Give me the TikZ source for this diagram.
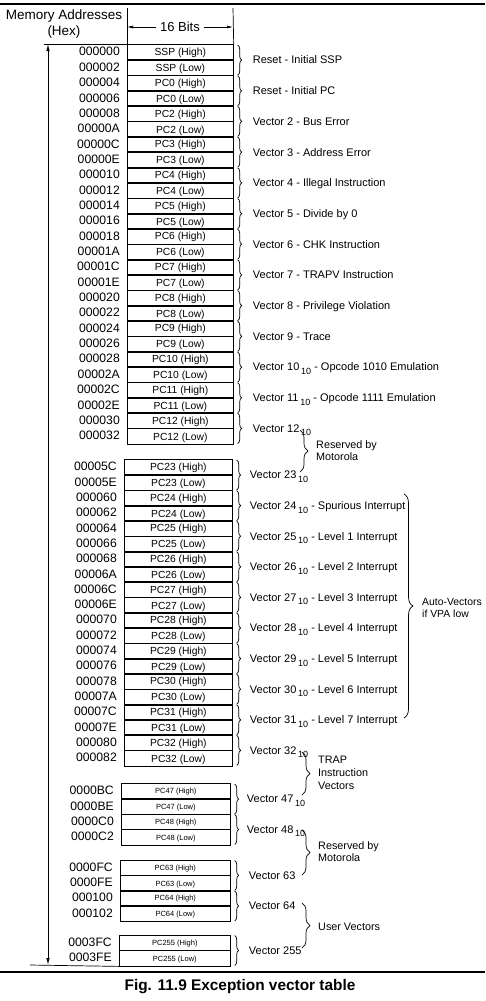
\documentclass[tikz,border=0pt]{standalone}
\usepackage{fontspec}
\setmainfont{Liberation Sans}
\usetikzlibrary{decorations.pathreplacing,calc,arrows.meta}
\newcommand\vsub[1]{\,\raisebox{-3.5pt}{\fontsize{9}{9}\selectfont #1}}
\begin{document}
\begin{tikzpicture}[x=1pt,y=-1pt,
  cell/.style={draw, line width=0.7pt, inner sep=0pt, anchor=north west, text height=7.2pt, text depth=0pt, font=\fontsize{10.3}{12}\selectfont},
  cellsmall/.style={cell, text height=5.4pt, font=\fontsize{7.5}{9}\selectfont},
  addr/.style={anchor=base east, inner sep=0pt, font=\fontsize{12.2}{14}\selectfont},
  lab/.style={anchor=base west, inner sep=0pt, font=\fontsize{11}{12}\selectfont},
  grp/.style={anchor=west, inner sep=0pt, align=left, font=\fontsize{10.8}{13}\selectfont},
  vbrace/.style={decorate, decoration={brace, amplitude=4pt}, line width=0.7pt},
  bbrace/.style={decorate, decoration={brace, amplitude=8pt}, line width=0.7pt},
  rule/.style={line width=2pt},
  thin/.style={line width=0.7pt},
  dim/.style={line width=0.8pt, {Latex[length=7pt,width=3.5pt]}-{Latex[length=7pt,width=3.5pt]}},
  harr/.style={line width=0.7pt, -{Latex[length=6pt,width=3pt]}}]
\useasboundingbox (0,0) rectangle (485,1001);

% rules
\coordinate (tl) at (0,3.5); \coordinate (tr) at (485,3.5);
\draw[rule] (tl) -- (tr);
\coordinate (bl) at (0,972); \coordinate (br) at (485,972);
\draw[rule] (bl) -- (br);

% header
\node[align=center, inner sep=0pt, font=\fontsize{13.5}{16}\selectfont] (hdr) at (64,24) {Memory Addresses\\(Hex)};
\node[inner sep=4pt, font=\fontsize{13}{15}\selectfont] (bits) at (180,27) {16 Bits};

% box 1
\foreach \p [count=\c from 0] in {SSP,PC0,PC2,PC3,PC4,PC5,PC6,PC7,PC8,PC9,PC10,PC11,PC12}{
  \node[cell, minimum width=106pt, minimum height=15.35pt] (b1h\c) at (127,{44+2*\c*15.35}) {\p\ (High)};
  \node[cell, minimum width=106pt, minimum height=15.35pt] (b1l\c) at (b1h\c.south west) {\p\ (Low)};
  \draw[vbrace] ($(b1h\c.north east)+(4,1)$) -- ($(b1l\c.south east)+(4,-1)$);
}
\foreach \a [count=\i from 0] in {000000,000002,000004,000006,000008,00000A,00000C,00000E,000010,000012,000014,000016,000018,00001A,00001C,00001E,000020,000022,000024,000026,000028,00002A,00002C,00002E,000030,000032}{
  \node[addr] (a1-\i) at (120,{44+(\i+0.5)*15.35+4.3}) {\a};
}
\foreach \t [count=\c from 0] in {{Reset - Initial SSP},{Reset - Initial PC},{Vector 2 - Bus Error},{Vector 3 - Address Error},{Vector 4 - Illegal Instruction},{Vector 5 - Divide by 0},{Vector 6 - CHK Instruction},{Vector 7 - TRAPV Instruction},{Vector 8 - Privilege Violation},{Vector 9 - Trace},{Vector 10\vsub{10} - Opcode 1010 Emulation},{Vector 11\vsub{10} - Opcode 1111 Emulation},{Vector 12\vsub{10}}}{
  \node[lab] (v1-\c) at ($(b1h\c.south east)+(19,3.9)$) {\t};
}

% header lines and arrows
\coordinate (hlt) at (127,8); \coordinate (hrt) at (233,8);
\draw[thin] (hlt) -- (b1h0.north west);
\draw[thin] (hrt) -- (b1h0.north east);
\coordinate (hl) at (127,27); \coordinate (hr) at (233,27);
\draw[harr] (bits.west) -- (hl);
\draw[harr] (bits.east) -- (hr);

% box 2
\foreach \p [count=\c from 0] in {PC23,PC24,PC25,PC26,PC27,PC28,PC29,PC30,PC31,PC32}{
  \node[cell, minimum width=108pt, minimum height=15.3pt] (b2h\c) at (124,{459+2*\c*15.3}) {\p\ (High)};
  \node[cell, minimum width=108pt, minimum height=15.3pt] (b2l\c) at (b2h\c.south west) {\p\ (Low)};
  \draw[vbrace] ($(b2h\c.north east)+(4,1)$) -- ($(b2l\c.south east)+(4,-1)$);
}
\foreach \a [count=\i from 0] in {00005C,00005E,000060,000062,000064,000066,000068,00006A,00006C,00006E,000070,000072,000074,000076,000078,00007A,00007C,00007E,000080,000082}{
  \node[addr] (a2-\i) at (117,{459+(\i+0.5)*15.3+4.3}) {\a};
}
\foreach \t [count=\c from 0] in {{Vector 23\vsub{10}},{Vector 24\vsub{10} - Spurious Interrupt},{Vector 25\vsub{10} - Level 1 Interrupt},{Vector 26\vsub{10} - Level 2 Interrupt},{Vector 27\vsub{10} - Level 3 Interrupt},{Vector 28\vsub{10} - Level 4 Interrupt},{Vector 29\vsub{10} - Level 5 Interrupt},{Vector 30\vsub{10} - Level 6 Interrupt},{Vector 31\vsub{10} - Level 7 Interrupt},{Vector 32\vsub{10}}}{
  \node[lab] (v2-\c) at ($(b2h\c.south east)+(17,3.9)$) {\t};
}

% box 3
\foreach \p [count=\c from 0] in {PC47,PC48}{
  \node[cellsmall, minimum width=109pt, minimum height=15.25pt] (b3h\c) at (121,{783+2*\c*15.25}) {\p\ (High)};
  \node[cellsmall, minimum width=109pt, minimum height=15.25pt] (b3l\c) at (b3h\c.south west) {\p\ (Low)};
  \draw[vbrace] ($(b3h\c.north east)+(4,1)$) -- ($(b3l\c.south east)+(4,-1)$);
}
\foreach \a [count=\i from 0] in {0000BC,0000BE,0000C0,0000C2}{
  \node[addr] (a3-\i) at (114,{783+(\i+0.5)*15.25+4.3}) {\a};
}
\foreach \t [count=\c from 0] in {{Vector 47\vsub{10}},{Vector 48\vsub{10}}}{
  \node[lab] (v3-\c) at ($(b3h\c.south east)+(16,3.9)$) {\t};
}

% box 4
\foreach \p [count=\c from 0] in {PC63,PC64}{
  \node[cellsmall, minimum width=110pt, minimum height=15.25pt] (b4h\c) at (120,{859.5+2*\c*15.25}) {\p\ (High)};
  \node[cellsmall, minimum width=110pt, minimum height=15.25pt] (b4l\c) at (b4h\c.south west) {\p\ (Low)};
  \draw[vbrace] ($(b4h\c.north east)+(4,1)$) -- ($(b4l\c.south east)+(4,-1)$);
}
\foreach \a [count=\i from 0] in {0000FC,0000FE,000100,000102}{
  \node[addr] (a4-\i) at (113,{859.5+(\i+0.5)*15.25+4.3}) {\a};
}
\foreach \t [count=\c from 0] in {{Vector 63},{Vector 64}}{
  \node[lab] (v4-\c) at ($(b4h\c.south east)+(18,3.9)$) {\t};
}

% box 5
\node[cellsmall, minimum width=111pt, minimum height=15.25pt] (b5h0) at (119,934.5) {PC255 (High)};
\node[cellsmall, minimum width=111pt, minimum height=15.25pt] (b5l0) at (b5h0.south west) {PC255 (Low)};
\draw[vbrace] ($(b5h0.north east)+(4,1)$) -- ($(b5l0.south east)+(4,-1)$);
\node[addr] (a5-0) at (112,{934.5+0.5*15.25+4.3}) {0003FC};
\node[addr] (a5-1) at (112,{934.5+1.5*15.25+4.3}) {0003FE};
\node[lab] (v5-0) at ($(b5h0.south east)+(18,3.9)$) {Vector 255};

% address range arrow
\coordinate (et) at (44,44); \coordinate (eb) at (30,965);
\draw[thin] (et) -- (b1h0.north west);
\draw[thin] (eb) -- (b5l0.south west);
\coordinate (at) at (48,44); \coordinate (ab) at (48,965);
\draw[dim] (at) -- (ab);

% group braces
\coordinate (r1t) at (300,430); \coordinate (r1b) at (300,472);
\draw[bbrace] (r1t) -- (r1b);
\node[grp, font=\fontsize{10.8}{12}\selectfont] (res1) at (316,451) {Reserved by\\Motorola};

\coordinate (avt) at (404,494); \coordinate (avb) at (404,718);
\draw[bbrace, decoration={amplitude=9pt}] (avt) -- (avb);
\node[grp, font=\fontsize{10.4}{12}\selectfont] (auto) at (422,608) {Auto-Vectors\\if VPA low};

\coordinate (trt) at (302,752); \coordinate (trb) at (302,795);
\draw[bbrace] (trt) -- (trb);
\node[grp] (trap) at (318,773) {TRAP\\Instruction\\Vectors};

\coordinate (r2t) at (302,830); \coordinate (r2b) at (302,875);
\draw[bbrace] (r2t) -- (r2b);
\node[grp, font=\fontsize{10.8}{12}\selectfont] (res2) at (318,852) {Reserved by\\Motorola};

\coordinate (uvt) at (302,903); \coordinate (uvb) at (302,948);
\draw[bbrace] (uvt) -- (uvb);
\node[grp] (user) at (318,927) {User Vectors};

% caption
\node[anchor=base, inner sep=0pt, font=\bfseries\fontsize{15.4}{18}\selectfont] (cap) at (240,990) {Fig. 11.9 Exception vector table};
\end{tikzpicture}
\end{document}
